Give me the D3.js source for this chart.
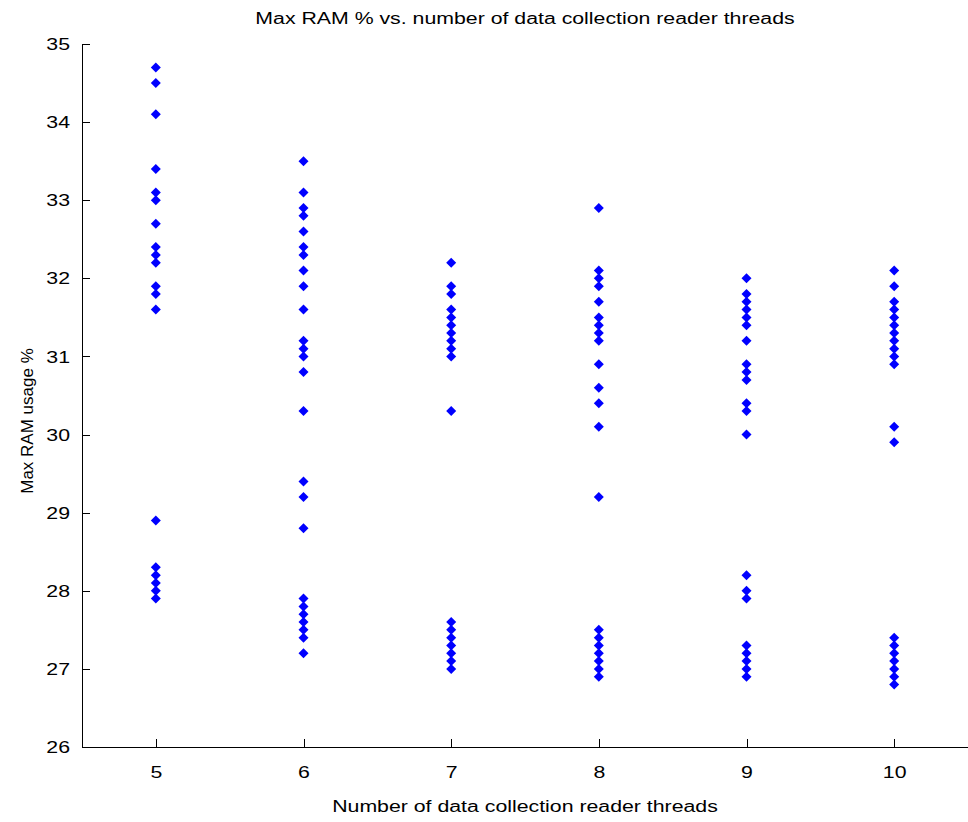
<!DOCTYPE html>
<html>
<head>
<meta charset="utf-8">
<script src="https://cdn.jsdelivr.net/npm/d3@7"></script>
<style>
  html, body { margin: 0; padding: 0; background: #fff; }
  svg { display: block; }
  text { font-family: "Liberation Sans", Arial, Helvetica, sans-serif; fill: #000; }
</style>
</head>
<body>
<svg id="chart" width="968" height="822"></svg>
<script>
// Reader thread counts on the x axis
const threads = [5, 6, 7, 8, 9, 10];

// Max RAM usage (%) observed per run, grouped by thread count
const ram5  = [34.7, 34.5, 34.1, 33.4, 33.1, 33.0, 32.7, 32.4, 32.3, 32.2, 31.9, 31.8, 31.6,
               28.9, 28.3, 28.2, 28.1, 28.0, 27.9];
const ram6  = [33.5, 33.1, 32.9, 32.8, 32.6, 32.4, 32.3, 32.1, 31.9, 31.6, 31.2, 31.1, 31.0, 30.8, 30.3,
               29.4, 29.2, 28.8, 27.9, 27.8, 27.7, 27.6, 27.5, 27.4, 27.2];
const ram7  = [32.2, 31.9, 31.8, 31.6, 31.5, 31.4, 31.3, 31.2, 31.1, 31.0, 30.3,
               27.6, 27.5, 27.4, 27.3, 27.2, 27.1, 27.0];
const ram8  = [32.9, 32.1, 32.0, 31.9, 31.7, 31.5, 31.4, 31.3, 31.2, 30.9, 30.6, 30.4, 30.1,
               29.2, 27.5, 27.4, 27.3, 27.2, 27.1, 27.0, 26.9];
const ram9  = [32.0, 31.8, 31.7, 31.6, 31.5, 31.4, 31.2, 30.9, 30.8, 30.7, 30.4, 30.3, 30.0,
               28.2, 28.0, 27.9, 27.3, 27.2, 27.1, 27.0, 26.9];
const ram10 = [32.1, 31.9, 31.7, 31.6, 31.5, 31.4, 31.3, 31.2, 31.1, 31.0, 30.9, 30.1, 29.9,
               27.4, 27.3, 27.2, 27.1, 27.0, 26.9, 26.8];

const ramByThreads = [ram5, ram6, ram7, ram8, ram9, ram10];

// Axis tick values
const xTicks = [5, 6, 7, 8, 9, 10];
const yTicks = [26, 27, 28, 29, 30, 31, 32, 33, 34, 35];

const titleText = "Max RAM % vs. number of data collection reader threads";
const xLabel = "Number of data collection reader threads";
const yLabel = "Max RAM usage %";

// Flatten into points
const points = [];
threads.forEach((t, i) => ramByThreads[i].forEach(v => points.push({ x: t, y: v })));

const svg = d3.select("#chart");
const plotLeft = 82, plotRight = 968, plotTop = 44, plotBottom = 747;
const fontSize = 16;
const wide = 1.33; // horizontal stretch of the lettering

// Widen horizontal text glyphs by a fixed factor
function widen(sel, factor) {
  sel.each(function () {
    const w = this.getComputedTextLength();
    d3.select(this).attr("textLength", w * factor).attr("lengthAdjust", "spacingAndGlyphs");
  });
}

const x = d3.scaleLinear().domain([4.5, 10.5]).range([plotLeft, plotRight]);
const y = d3.scaleLinear().domain([26, 35]).range([plotBottom, plotTop]);

// Axes with inward ticks
const xAxis = d3.axisBottom(x).tickValues(xTicks).tickFormat(d3.format("d"))
  .tickSizeInner(-8).tickSizeOuter(0).tickPadding(20);
const yAxis = d3.axisLeft(y).tickValues(yTicks).tickFormat(d3.format("d"))
  .tickSizeInner(-8).tickSizeOuter(0).tickPadding(20);

const gx = svg.append("g").attr("transform", `translate(0,${plotBottom})`).call(xAxis);
const gy = svg.append("g").attr("transform", `translate(${plotLeft},0)`).call(yAxis);

[gx, gy].forEach(g => {
  g.selectAll("path.domain").attr("stroke", "#000").attr("stroke-width", 1).attr("shape-rendering", "crispEdges");
  g.selectAll(".tick line").attr("stroke", "#000").attr("shape-rendering", "crispEdges");
  g.selectAll(".tick text").attr("font-size", fontSize).attr("font-family", "'Liberation Sans', Arial, sans-serif");
});
gy.selectAll(".tick text").attr("dy", "0.35em").attr("x", -12);
gx.selectAll(".tick text").attr("y", 20);
widen(gx.selectAll(".tick text"), wide);
widen(gy.selectAll(".tick text"), wide);

// Diamond markers
const r = 5;
const diamond = `M0,${-r}L${r},0L0,${r}L${-r},0Z`;
svg.append("g")
  .selectAll("path")
  .data(points)
  .join("path")
  .attr("d", diamond)
  .attr("transform", d => `translate(${x(d.x)},${y(d.y)})`)
  .attr("fill", "#0000ff");

// Title and axis labels
svg.append("text")
  .attr("x", (plotLeft + plotRight) / 2).attr("y", 24)
  .attr("text-anchor", "middle")
  .attr("font-size", fontSize)
  .text(titleText)
  .call(widen, wide);

svg.append("text")
  .attr("x", (plotLeft + plotRight) / 2).attr("y", 812)
  .attr("text-anchor", "middle")
  .attr("font-size", fontSize)
  .text(xLabel)
  .call(widen, wide);

svg.append("text")
  .attr("transform", `translate(33,421) rotate(-90)`)
  .attr("text-anchor", "middle")
  .attr("font-size", 17)
  .text(yLabel);
</script>
</body>
</html>
